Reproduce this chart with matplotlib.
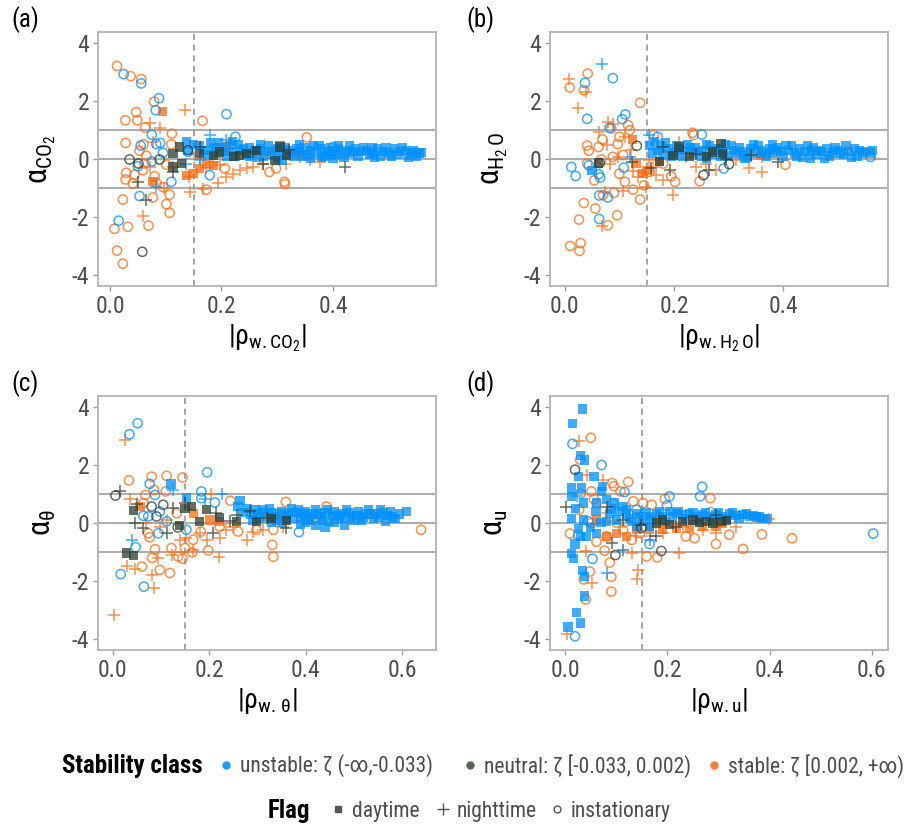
import matplotlib
matplotlib.use("Agg")
import matplotlib.pyplot as plt
from matplotlib import font_manager
from matplotlib.lines import Line2D

# pick a narrow-ish family that is installed
installed = {f.name for f in font_manager.fontManager.ttflist}
base_font = 'Roboto'
for cand in ('Liberation Sans Narrow', 'Roboto Condensed', 'Roboto'):
    if cand in installed:
        base_font = cand
        break

plt.rcParams['font.family'] = [base_font, 'DejaVu Sans']
plt.rcParams['axes.unicode_minus'] = False
plt.rcParams['mathtext.fontset'] = 'custom'
plt.rcParams['mathtext.rm'] = base_font
plt.rcParams['mathtext.it'] = base_font
plt.rcParams['mathtext.bf'] = base_font + ':bold'

# ---------------- panel (a): CO2 ----------------
a_unst_day = [(0.137, 0.6), (0.16, 0.45), (0.17, 0.3), (0.18, 0.55), (0.19, 0.2), (0.2, 0.4), (0.21, 0.1),
              (0.215, 0.45), (0.22, 0.25), (0.23, 0.5), (0.24, 0.35), (0.245, 0.15), (0.25, 0.4), (0.26, 0.3),
              (0.265, 0.05), (0.27, 0.35), (0.28, 0.25), (0.285, 0.45), (0.29, 0.15), (0.3, 0.35), (0.31, 0.2),
              (0.315, 0.4), (0.32, 0.3), (0.33, 0.1), (0.335, 0.35), (0.34, 0.25), (0.35, 0.4), (0.355, 0.15),
              (0.36, 0.3), (0.37, 0.2), (0.375, 0.45), (0.38, 0.35), (0.385, 0.1), (0.39, 0.25), (0.4, 0.3),
              (0.405, 0.15), (0.41, 0.35), (0.415, 0.2), (0.42, 0.05), (0.425, 0.3), (0.43, 0.2), (0.44, 0.35),
              (0.445, 0.1), (0.45, 0.25), (0.46, 0.3), (0.465, 0.15), (0.47, 0.2), (0.48, 0.35), (0.485, 0.1),
              (0.49, 0.25), (0.5, 0.2), (0.51, 0.35), (0.515, 0.15), (0.52, 0.25), (0.53, 0.3), (0.54, 0.2),
              (0.555, 0.2), (0.36, 0.0), (0.3, 0.0), (0.25, 0.1), (0.34, 0.5), (0.395, 0.4), (0.22, 0.6),
              (0.27, 0.5), (0.31, -0.05), (0.4, 0.0),
              (0.14, 0.3), (0.15, 0.5), (0.175, 0.15), (0.185, 0.4), (0.195, 0.55), (0.205, 0.25), (0.225, 0.1),
              (0.235, 0.3), (0.255, 0.2), (0.275, 0.1), (0.295, 0.3), (0.305, 0.45), (0.325, 0.2), (0.345, 0.1),
              (0.365, 0.45), (0.38, 0.05), (0.395, 0.15), (0.41, 0.45), (0.435, 0.25), (0.455, 0.4),
              (0.475, 0.05), (0.495, 0.4), (0.505, 0.1), (0.525, 0.4), (0.535, 0.05), (0.545, 0.3),
              (0.558, 0.22), (0.55, 0.1), (0.47, 0.4), (0.43, 0.45)]
a_unst_night = [(0.179, 0.82), (0.209, 0.64), (0.137, -0.16), (0.161, -0.05), (0.083, -0.97)]
a_unst_inst = [(0.0245, 2.92), (0.056, 2.6), (0.088, 2.09), (0.082, 1.68), (0.209, 1.54), (0.075, 0.83),
               (0.09, 0.55), (0.095, 0.21), (0.055, 0.46), (0.083, 0.51), (0.075, -0.09), (0.05, -0.25),
               (0.11, -0.79), (0.053, -1.28), (0.0155, -2.13), (0.225, 0.76), (0.14, 0.24), (0.179, -0.56),
               (0.532, 0.16), (0.4, 0.41)]
a_neut_day = [(0.113, 0.18), (0.125, 0.41), (0.128, -0.16), (0.113, -0.28), (0.185, 0.13), (0.197, 0.24),
              (0.221, 0.07), (0.233, 0.13), (0.245, 0.18), (0.263, 0.3), (0.305, 0.41), (0.317, 0.13),
              (0.296, -0.05), (0.161, 0.18)]
a_neut_night = [(0.05, -0.79), (0.065, -1.43), (0.113, -0.45), (0.161, 0.41), (0.421, -0.28), (0.275, -0.16),
                (0.322, 0.3), (0.257, 0.24)]
a_neut_inst = [(0.035, -0.02), (0.051, -0.16), (0.089, -0.02), (0.058, -3.2), (0.14, 0.3)]
a_stab_day = [(0.094, 1.62), (0.077, -0.79), (0.149, -0.51), (0.161, -0.33), (0.185, -0.22), (0.209, 0.41),
              (0.34, 0.18), (0.173, -0.16), (0.137, -0.56)]
a_stab_night = [(0.135, 1.67), (0.072, 1.24), (0.09, 1.08), (0.077, 0.59), (0.142, -0.62), (0.143, -1.14),
                (0.167, -1.02), (0.194, -0.83), (0.209, -0.62), (0.221, -0.51), (0.233, -0.39), (0.245, -0.33),
                (0.257, -0.28), (0.275, -0.16), (0.316, -0.16), (0.34, 0.07), (0.358, -0.05), (0.376, -0.1),
                (0.059, -1.98), (0.097, -1.0), (0.161, 0.01), (0.185, -0.1), (0.173, -0.33), (0.197, -0.22),
                (0.164, 0.41), (0.071, -0.28), (0.113, -0.28), (0.269, 0.07)]
a_stab_inst = [(0.0126, 3.2), (0.037, 2.85), (0.056, 2.75), (0.079, 1.97), (0.0275, 1.33), (0.047, 1.61),
               (0.049, 1.33), (0.063, 1.08), (0.166, 1.31), (0.353, 0.74), (0.111, 0.87), (0.028, 0.55),
               (0.06, 0.5), (0.053, 0.28), (0.065, 0.11), (0.062, -0.16), (0.029, -0.48), (0.028, -0.71),
               (0.044, -0.54), (0.041, -0.85), (0.08, -0.6), (0.083, -0.83), (0.095, -0.97), (0.107, -1.23),
               (0.077, -1.33), (0.101, -1.56), (0.107, -1.86), (0.023, -1.4), (0.032, -2.34), (0.008, -2.41),
               (0.069, -2.3), (0.0126, -3.16), (0.023, -3.61), (0.173, -1.06), (0.313, -0.79), (0.314, -0.87),
               (0.286, -0.45), (0.298, -0.33), (0.11, 0.5), (0.101, -0.2), (0.206, -0.33), (0.059, -0.39)]

# ---------------- panel (b): H2O ----------------
b_unst_day = [(0.05, -0.39), (0.155, 0.45), (0.165, 0.6), (0.17, 0.3), (0.18, 0.15), (0.19, 0.35), (0.2, 0.2),
              (0.205, 0.45), (0.215, 0.1), (0.22, 0.3), (0.225, 0.5), (0.235, 0.2), (0.24, 0.4), (0.25, 0.1),
              (0.255, 0.3), (0.265, 0.45), (0.27, 0.15), (0.28, 0.35), (0.29, 0.25), (0.295, 0.5), (0.3, 0.1),
              (0.31, 0.3), (0.32, 0.4), (0.325, 0.15), (0.33, 0.25), (0.34, 0.35), (0.35, 0.2), (0.355, 0.45),
              (0.36, 0.3), (0.37, 0.1), (0.375, 0.35), (0.38, 0.2), (0.39, 0.4), (0.395, 0.25), (0.4, 0.1),
              (0.41, 0.3), (0.415, 0.45), (0.42, 0.2), (0.43, 0.35), (0.435, 0.05), (0.44, 0.25), (0.45, 0.3),
              (0.455, 0.4), (0.46, 0.15), (0.47, 0.25), (0.48, 0.35), (0.485, 0.1), (0.49, 0.2), (0.5, 0.3),
              (0.51, 0.15), (0.52, 0.25), (0.53, 0.35), (0.535, 0.1), (0.545, 0.2), (0.56, 0.2), (0.26, 0.0),
              (0.33, 0.0), (0.38, 0.5), (0.45, 0.0),
              (0.16, 0.2), (0.175, 0.45), (0.185, 0.55), (0.195, 0.1), (0.21, 0.35), (0.23, 0.4), (0.245, 0.25),
              (0.26, 0.5), (0.275, 0.3), (0.285, 0.1), (0.305, 0.45), (0.315, 0.2), (0.335, 0.05), (0.345, 0.5),
              (0.365, 0.2), (0.385, 0.3), (0.405, 0.45), (0.425, 0.1), (0.445, 0.45), (0.465, 0.3),
              (0.475, 0.0), (0.495, 0.4), (0.505, 0.2), (0.515, 0.45), (0.525, 0.05), (0.54, 0.3),
              (0.55, 0.25), (0.563, 0.3)]
b_unst_night = [(0.068, 3.26), (0.155, 0.82), (0.119, 0.07)]
b_unst_inst = [(0.037, 2.62), (0.088, 2.78), (0.041, 1.38), (0.111, 1.53), (0.105, 1.37), (0.082, 1.07),
               (0.251, 0.84), (0.17, 0.76), (0.012, -0.28), (0.02, -0.59), (0.044, -0.22), (0.062, -0.53),
               (0.065, -0.64), (0.063, -1.26), (0.079, -1.33), (0.063, -2.07), (0.108, -0.3), (0.56, 0.07),
               (0.291, -0.33)]
b_neut_day = [(0.062, -0.14), (0.174, -0.1), (0.198, 0.13), (0.209, 0.41), (0.228, 0.07), (0.259, 0.07),
              (0.271, 0.24), (0.286, 0.53), (0.289, 0.18)]
b_neut_night = [(0.124, -0.1), (0.158, -0.33), (0.192, -0.39), (0.24, 0.18), (0.265, -0.39), (0.295, 0.01),
                (0.341, 0.13), (0.39, -0.1), (0.18, 0.41)]
b_neut_inst = [(0.132, 0.45), (0.064, -0.14), (0.254, -0.56), (0.301, -0.18)]
b_stab_day = [(0.124, 0.67), (0.152, -0.39), (0.174, -0.1), (0.21, 0.3), (0.359, 0.13), (0.143, -0.51),
              (0.131, -0.16)]
b_stab_night = [(0.008, 2.75), (0.038, 2.31), (0.024, 1.77), (0.079, 1.28), (0.088, 1.2), (0.062, 0.93),
                (0.077, 0.47), (0.11, 0.76), (0.097, 0.07), (0.082, -0.16), (0.125, -0.41), (0.134, -0.62),
                (0.143, -0.45), (0.149, -0.97), (0.107, -1.1), (0.073, -1.14), (0.068, -2.32), (0.198, -1.25),
                (0.18, -0.74), (0.167, -0.56), (0.21, 0.59), (0.222, 0.07), (0.24, -0.28), (0.259, -0.16),
                (0.277, -0.39), (0.314, -0.05), (0.338, -0.31), (0.361, -0.45), (0.362, 0.07), (0.295, 0.07),
                (0.155, -0.05), (0.161, -0.28), (0.122, 0.3)]
b_stab_inst = [(0.042, 2.94), (0.009, 2.46), (0.035, 2.37), (0.138, 1.93), (0.085, 1.05), (0.1, 0.76),
               (0.097, 0.51), (0.116, 1.16), (0.119, 0.99), (0.041, 0.46), (0.062, 0.41), (0.069, 0.67),
               (0.044, 0.28), (0.041, -0.16), (0.067, -0.02), (0.054, -0.74), (0.1, -0.51), (0.11, -0.79),
               (0.09, -1.17), (0.125, -1.06), (0.145, -0.91), (0.138, -1.4), (0.07, -1.25), (0.035, -1.52),
               (0.056, -1.71), (0.096, -1.94), (0.079, -2.29), (0.026, -2.09), (0.01, -3.0), (0.029, -2.9),
               (0.027, -3.17), (0.234, 0.9), (0.236, 0.82), (0.247, -0.77), (0.202, -0.79), (0.195, -0.6),
               (0.404, -0.2), (0.163, 0.82), (0.155, -0.45), (0.18, -0.16), (0.088, 0.07), (0.107, 0.13)]

# ---------------- panel (c): theta ----------------
c_unst_day = [(0.121, 1.34), (0.153, 0.87), (0.264, 0.77), (0.28, 0.5), (0.3, 0.3), (0.31, 0.45), (0.32, 0.2),
              (0.33, 0.35), (0.34, 0.1), (0.35, 0.4), (0.36, 0.25), (0.37, 0.5), (0.375, 0.15), (0.38, 0.35),
              (0.39, 0.2), (0.4, 0.4), (0.41, 0.1), (0.415, 0.3), (0.42, 0.45), (0.43, 0.2), (0.44, 0.35),
              (0.45, 0.05), (0.455, 0.25), (0.46, 0.4), (0.47, 0.15), (0.475, 0.3), (0.48, 0.2), (0.49, 0.35),
              (0.5, 0.1), (0.505, 0.25), (0.51, 0.4), (0.52, 0.2), (0.525, 0.3), (0.53, 0.45), (0.54, 0.15),
              (0.545, 0.3), (0.55, 0.2), (0.56, 0.35), (0.565, 0.05), (0.57, 0.25), (0.58, 0.2), (0.595, 0.3),
              (0.26, 0.55), (0.29, 0.1), (0.33, 0.0), (0.39, -0.05), (0.48, -0.1), (0.4, 0.0), (0.35, 0.0),
              (0.27, 0.35), (0.46, 0.0),
              (0.285, 0.3), (0.295, 0.45), (0.305, 0.15), (0.315, 0.35), (0.325, 0.5), (0.335, 0.2),
              (0.345, 0.3), (0.355, 0.15), (0.365, 0.35), (0.385, 0.45), (0.395, 0.3), (0.405, 0.2),
              (0.425, 0.3), (0.435, 0.1), (0.445, 0.45), (0.465, 0.25), (0.485, 0.45), (0.495, 0.2),
              (0.515, 0.1), (0.535, 0.3), (0.555, 0.45), (0.575, 0.4), (0.585, 0.15), (0.609, 0.39),
              (0.44, -0.15), (0.42, -0.1)]
c_unst_night = [(0.041, -0.58), (0.126, 1.13), (0.226, 0.99), (0.191, 0.81)]
c_unst_inst = [(0.052, 3.43), (0.035, 3.05), (0.196, 1.74), (0.077, 1.34), (0.184, 1.08), (0.088, 0.96),
               (0.184, 0.85), (0.212, 0.7), (0.064, 0.24), (0.074, 0.22), (0.098, 0.39), (0.095, -0.36),
               (0.153, -0.24), (0.048, -0.84), (0.017, -1.77), (0.065, -2.2), (0.386, -0.32), (0.112, 0.05)]
c_neut_day = [(0.029, -1.04), (0.043, -1.13), (0.043, 0.42), (0.139, -0.1), (0.15, 0.5), (0.164, 0.56),
              (0.18, 0.05), (0.195, 0.45), (0.222, 0.19), (0.257, 0.05), (0.298, 0.05), (0.329, 0.16),
              (0.36, 0.07)]
c_neut_night = [(0.015, 1.08), (0.05, 0.65), (0.046, 0.01), (0.064, -0.18), (0.112, -0.36), (0.126, 0.5),
                (0.15, 0.68), (0.209, -0.36), (0.215, 0.33), (0.257, 0.28), (0.285, 0.39), (0.319, 0.16),
                (0.36, -0.18), (0.243, 0.05)]
c_neut_inst = [(0.006, 0.94), (0.081, 0.56), (0.105, 0.62), (0.091, 0.22), (0.135, -0.16)]
c_stab_day = [(0.057, 0.56), (0.167, 0.33), (0.202, 0.1), (0.222, 0.05)]
c_stab_night = [(0.026, 2.85), (0.036, 0.81), (0.029, -1.5), (0.046, -1.59), (0.081, -1.79), (0.086, -2.25),
                (0.003, -3.19), (0.095, -1.21), (0.124, -1.1), (0.167, -0.93), (0.195, -0.58), (0.222, -0.53),
                (0.221, -1.18), (0.204, 1.0), (0.181, -0.36), (0.236, -0.24), (0.25, -0.13), (0.278, -0.58),
                (0.291, -0.3), (0.312, -0.24), (0.354, -0.13), (0.098, -0.13), (0.112, 0.1), (0.07, -0.01),
                (0.14, -0.58), (0.153, -0.53)]
c_stab_inst = [(0.034, 1.46), (0.081, 1.59), (0.112, 1.62), (0.145, 1.56), (0.068, 0.96), (0.086, 1.13),
               (0.11, 1.08), (0.064, 0.68), (0.074, -0.36), (0.077, -0.5), (0.088, -0.91), (0.082, -1.21),
               (0.061, -1.51), (0.098, -1.62), (0.119, -1.73), (0.122, -0.87), (0.136, -1.16), (0.145, -1.24),
               (0.15, -0.87), (0.165, -1.02), (0.198, -0.95), (0.167, -0.58), (0.183, -0.3), (0.244, 0.76),
               (0.359, 0.72), (0.443, 0.56), (0.331, -0.76), (0.333, -1.17), (0.639, -0.24), (0.26, -0.3),
               (0.298, -0.24), (0.333, -0.24), (0.222, -0.13), (0.133, 0.33)]

# ---------------- panel (d): u ----------------
d_unst_day = [(0.033, 3.92), (0.014, 3.43), (0.029, 2.32), (0.038, 2.16), (0.025, 1.6), (0.056, 1.6),
              (0.012, 1.2), (0.032, 1.2), (0.073, 1.26), (0.071, 1.08), (0.012, 0.91), (0.035, 0.68),
              (0.061, 0.68), (0.081, 0.8), (0.097, 0.68), (0.113, 0.56), (0.12, 0.45), (0.012, 0.16),
              (0.035, 0.1), (0.029, -0.47), (0.042, -0.47), (0.061, -0.36), (0.019, -0.73), (0.012, -1.05),
              (0.016, -1.22), (0.034, -1.65), (0.038, -1.86), (0.038, -2.52), (0.022, -3.1), (0.03, -3.45),
              (0.005, -3.59), (0.081, 0.05), (0.1, 0.1), (0.126, 0.16), (0.139, 0.33), (0.152, 0.05),
              (0.165, 0.22), (0.178, 0.33), (0.191, 0.22), (0.204, 0.39), (0.217, 0.33), (0.23, 0.28),
              (0.243, 0.33), (0.256, 0.22), (0.269, 0.28), (0.282, 0.22), (0.295, 0.28), (0.308, 0.22),
              (0.321, 0.31), (0.334, 0.24), (0.347, 0.28), (0.36, 0.22), (0.374, 0.2), (0.387, 0.16),
              (0.396, 0.16), (0.165, -0.13), (0.139, -0.13), (0.087, 0.33),
              (0.12, 0.3), (0.13, 0.05), (0.145, 0.2), (0.158, 0.35), (0.17, 0.1), (0.185, 0.4), (0.195, 0.05),
              (0.21, 0.2), (0.222, 0.4), (0.236, 0.15), (0.25, 0.35), (0.262, 0.1), (0.275, 0.35),
              (0.288, 0.1), (0.3, 0.35), (0.315, 0.15), (0.327, 0.35), (0.34, 0.15), (0.355, 0.3),
              (0.368, 0.25), (0.38, 0.2), (0.06, 0.4), (0.07, 0.0), (0.09, 0.5), (0.105, 0.4), (0.05, -0.15),
              (0.02, 0.5), (0.025, -0.2)]
d_unst_night = [(0.081, -1.72), (0.113, -0.93), (0.165, -0.59), (0.022, 0.91)]
d_unst_inst = [(0.014, 2.72), (0.071, 1.99), (0.116, 1.06), (0.268, 1.24), (0.264, 0.91), (0.204, 0.91),
               (0.199, 0.59), (0.603, -0.37), (0.019, -3.91), (0.053, -1.24), (0.165, -0.73), (0.025, -0.41),
               (0.045, 0.05), (0.139, 0.45)]
d_neut_day = [(0.178, -0.01), (0.191, 0.1), (0.204, -0.07), (0.23, 0.05), (0.25, 0.1), (0.263, 0.01),
              (0.276, 0.05), (0.289, -0.01), (0.305, 0.05), (0.315, 0.07)]
d_neut_night = [(0.001, 0.56), (0.081, 0.56), (0.092, -0.7), (0.113, 0.1), (0.149, -0.07), (0.217, -0.13),
                (0.256, 0.05), (0.295, 0.28), (0.178, -0.47)]
d_neut_inst = [(0.019, 1.83), (0.149, -0.18), (0.188, -0.97), (0.098, -1.11)]
d_stab_day = [(0.061, 0.1), (0.081, -0.47), (0.139, -0.24), (0.165, -0.24), (0.191, -0.24), (0.217, -0.18),
              (0.243, -0.18), (0.269, -0.13), (0.295, -0.13), (0.308, -0.01), (0.12, -0.47), (0.1, -0.36)]
d_stab_night = [(0.027, 2.81), (0.042, 1.63), (0.074, 1.49), (0.04, -0.96), (0.053, -2.06), (0.004, -3.84),
                (0.143, -1.63), (0.141, -1.95), (0.13, -1.05), (0.222, -1.05), (0.113, -0.93), (0.165, -0.47),
                (0.191, -0.36), (0.23, -0.13), (0.269, -0.24), (0.295, -0.36), (0.334, -0.13), (0.398, 0.13),
                (0.081, 0.33), (0.094, 0.05), (0.139, -0.47), (0.107, -0.13), (0.178, -0.01)]
d_stab_inst = [(0.05, 2.93), (0.029, 2.18), (0.123, 1.41), (0.092, 1.37), (0.095, 1.26), (0.108, 1.08),
               (0.051, 1.08), (0.056, 0.82), (0.03, 1.0), (0.027, 0.45), (0.061, 0.68), (0.094, 0.68),
               (0.133, 0.74), (0.152, 0.68), (0.169, 0.62), (0.195, 0.82), (0.284, 0.85), (0.284, 0.37),
               (0.009, -0.37), (0.051, -0.01), (0.061, -0.65), (0.077, -0.96), (0.087, -1.37), (0.048, -1.68),
               (0.036, -1.95), (0.09, -1.86), (0.04, -2.64), (0.09, -2.37), (0.159, -1.16), (0.18, -1.19),
               (0.236, -0.47), (0.253, -0.53), (0.295, -0.73), (0.321, -0.41), (0.348, -0.9), (0.385, -0.4),
               (0.444, -0.53), (0.113, -0.24), (0.13, -0.59), (0.146, -0.36), (0.081, -0.47)]

panel_tags = ['(a)', '(b)', '(c)', '(d)']
x_labels = [r'$|\rho_{\mathrm{w.CO_2}}|$', r'$|\rho_{\mathrm{w.H_2\,O}}|$',
            r'$|\rho_{\mathrm{w.\,\theta}}|$', r'$|\rho_{\mathrm{w.u}}|$']
y_labels = [r'$\alpha_{\mathrm{CO_2}}$', r'$\alpha_{\mathrm{H_2\,O}}$', r'$\alpha_{\theta}$', r'$\alpha_{\mathrm{u}}$']
x_ticks = [[0.0, 0.2, 0.4], [0.0, 0.2, 0.4], [0.0, 0.2, 0.4, 0.6], [0.0, 0.2, 0.4, 0.6]]
x_lims = [(-0.0215, 0.585), (-0.027, 0.592), (-0.030, 0.670), (-0.030, 0.632)]
y_ticks = [-4, -2, 0, 2, 4]

class_names = ['unstable: ζ (-∞,-0.033)', 'neutral: ζ [-0.033, 0.002)', 'stable: ζ [0.002, +∞)']
flag_names = ['daytime', 'nighttime', 'instationary']

col_unst = '#0090ff'
col_neut = '#2e3d2e'
col_stab = '#ff6a10'

panels = [
    dict(unst=(a_unst_day, a_unst_night, a_unst_inst), neut=(a_neut_day, a_neut_night, a_neut_inst),
         stab=(a_stab_day, a_stab_night, a_stab_inst)),
    dict(unst=(b_unst_day, b_unst_night, b_unst_inst), neut=(b_neut_day, b_neut_night, b_neut_inst),
         stab=(b_stab_day, b_stab_night, b_stab_inst)),
    dict(unst=(c_unst_day, c_unst_night, c_unst_inst), neut=(c_neut_day, c_neut_night, c_neut_inst),
         stab=(c_stab_day, c_stab_night, c_stab_inst)),
    dict(unst=(d_unst_day, d_unst_night, d_unst_inst), neut=(d_neut_day, d_neut_night, d_neut_inst),
         stab=(d_stab_day, d_stab_night, d_stab_inst)),
]


def draw_group(ax, pts, flag, color):
    if not pts:
        return
    xs = [p[0] for p in pts]
    ys = [p[1] for p in pts]
    if flag == 0:
        ax.scatter(xs, ys, marker='s', s=44, c=color, edgecolors='none', alpha=0.75, zorder=3)
    elif flag == 1:
        ax.scatter(xs, ys, marker='+', s=75, c=color, linewidths=1.1, alpha=0.75, zorder=3)
    else:
        ax.scatter(xs, ys, marker='o', s=44, facecolors='none', edgecolors=color, linewidths=1.1,
                   alpha=0.75, zorder=3)


fig = plt.figure(figsize=(9.06, 8.32), dpi=100)
lefts = [0.1082, 0.6071, 0.1082, 0.6071]
bottoms = [0.6562, 0.6562, 0.2188, 0.2188]
tag_pos = [(0.013, 0.977), (0.515, 0.977), (0.013, 0.539), (0.515, 0.539)]

for i, pan in enumerate(panels):
    ax = fig.add_axes([lefts[i], bottoms[i], 0.3731, 0.3053])
    for k, col in (('stab', col_stab), ('unst', col_unst), ('neut', col_neut)):
        for f in range(3):
            draw_group(ax, pan[k][f], f, col)
    for yl in (-1, 0, 1):
        ax.axhline(yl, color='#a6a6a6', lw=1.3, zorder=2)
    ax.axvline(0.15, color='#8c8c8c', lw=1.1, ls=(0, (4, 3)), zorder=2)
    ax.set_xlim(*x_lims[i])
    ax.set_ylim(-4.38, 4.37)
    ax.set_xticks(x_ticks[i])
    ax.set_xticklabels([f'{t:.1f}' for t in x_ticks[i]])
    ax.set_yticks(y_ticks)
    ax.tick_params(colors='#9a9a9a', labelcolor='#4d4d4d', labelsize=17, length=3.5, width=1, pad=3)
    for sp in ax.spines.values():
        sp.set_color('#b3b3b3')
        sp.set_linewidth(1.3)
    ax.set_xlabel(x_labels[i], fontsize=20, labelpad=3)
    ax.set_ylabel(y_labels[i], fontsize=22, labelpad=10)
    fig.text(tag_pos[i][0], tag_pos[i][1], panel_tags[i], fontsize=18, va='center')

# legends: one small legend per key so each key sits where the reference has it
leg_cols = ['#1e9bff', '#5c655c', '#ff7f3a']
h1 = [Line2D([], [], marker='o', ls='none', color=c, markersize=5) for c in leg_cols]
h2 = [Line2D([], [], marker='s', ls='none', color='#555555', markersize=5),
      Line2D([], [], marker='+', ls='none', color='#555555', markersize=9, mew=1),
      Line2D([], [], marker='o', ls='none', markerfacecolor='none', markeredgecolor='#555555',
             markersize=5, mew=1)]
row1_x = [217, 461, 705]
row2_x = [329, 434, 548]
row1_y = 1 - 766 / 832
row2_y = 1 - 811 / 832

fig.text(203 / 906, row1_y, 'Stability class', fontsize=18, fontweight='bold', ha='right', va='center')
fig.text(310 / 906, row2_y, 'Flag', fontsize=18, fontweight='bold', ha='right', va='center')
for handles, names, xs, yy in ((h1, class_names, row1_x, row1_y), (h2, flag_names, row2_x, row2_y)):
    for h, name, x0 in zip(handles, names, xs):
        fig.legend([h], [name], loc='center left', bbox_to_anchor=(x0 / 906, yy), frameon=False,
                   fontsize=15.5, handletextpad=0.25, handlelength=0.8, labelcolor='#4d4d4d',
                   borderaxespad=0, borderpad=0)

fig.savefig('out.png', dpi=100)
